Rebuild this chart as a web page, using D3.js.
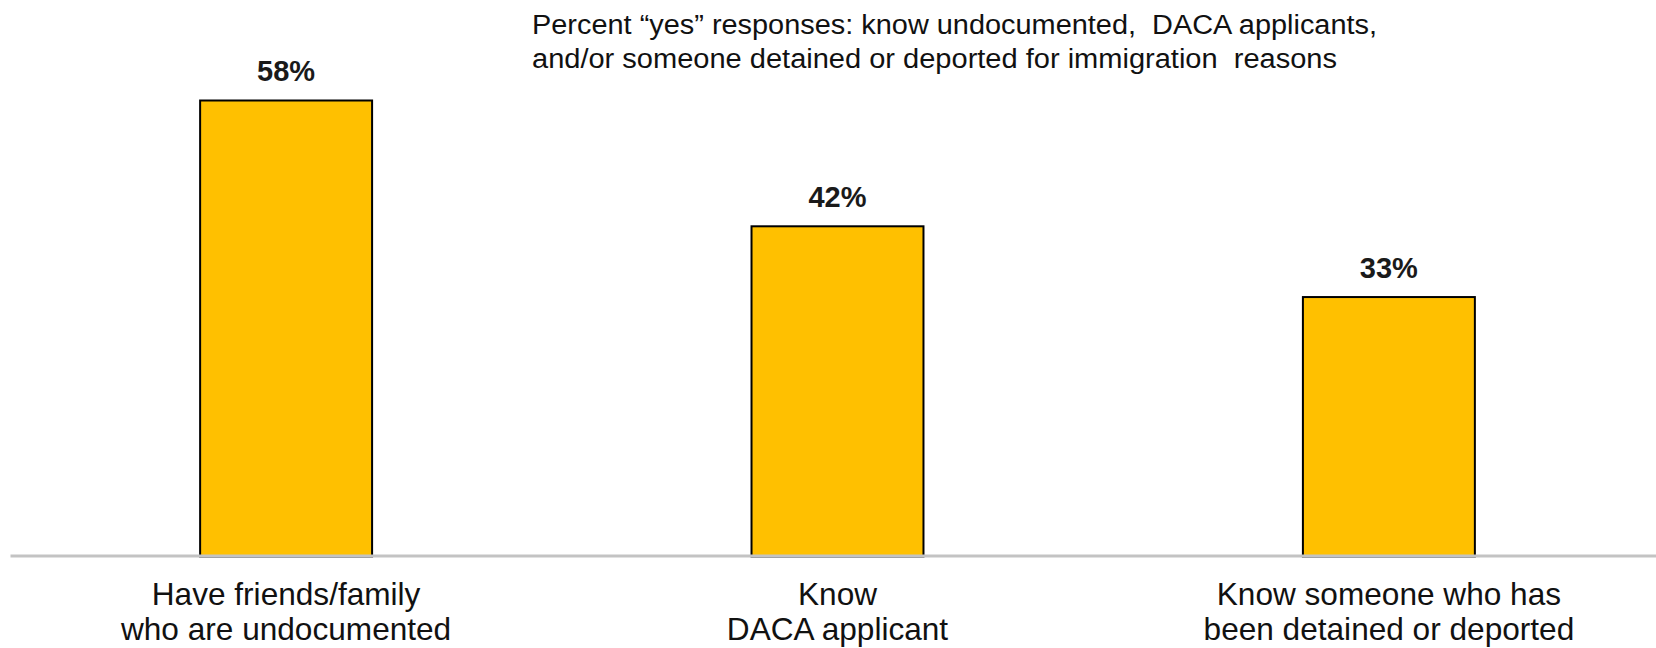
<!DOCTYPE html>
<html><head><meta charset="utf-8">
<script src="https://cdn.jsdelivr.net/npm/d3@7"></script>
<style>body{margin:0;background:#fff}svg{display:block}</style>
</head><body>
<svg id="c" width="1656" height="648"></svg>
<script>
const categories = ["Have friends/family\nwho are undocumented", "Know\nDACA applicant", "Know someone who has\nbeen detained or deported"];
const values = [58, 42, 33];
const valueLabels = ["58%", "42%", "33%"];
const titleLines = ["Percent \u201cyes\u201d responses: know undocumented,  DACA applicants,", "and/or someone detained or deported for immigration  reasons"];

const svg = d3.select("#c");
const x = d3.scaleBand().domain(categories).range([10, 1665]).paddingInner(0.6845).paddingOuter(0.343);
const y = d3.scaleLinear().domain([0, 58]).range([555.5, 99.5]);

svg.append("g").selectAll("rect").data(values).join("rect")
  .attr("x", (d,i) => x(categories[i]) + 1)
  .attr("width", x.bandwidth() - 2)
  .attr("y", d => y(d) + 1)
  .attr("height", d => y(0) - y(d))
  .attr("fill", "#FFC000").attr("stroke", "#000").attr("stroke-width", 2);

const ax = svg.append("g").attr("transform", `translate(0,${y(0)})`)
  .call(d3.axisBottom(x).tickSize(0).tickFormat(""));
ax.select(".domain").attr("stroke", "#c3c3c3").attr("stroke-width", 3);

svg.append("g").selectAll("text").data(values).join("text")
  .attr("x", (d,i) => x(categories[i]) + x.bandwidth()/2)
  .attr("y", d => y(d) - 18.5)
  .attr("text-anchor", "middle")
  .attr("font-family", "Liberation Sans, Arial, sans-serif")
  .attr("font-weight", "bold").attr("font-size", 29).attr("fill", "#1a1a1a")
  .text((d,i) => valueLabels[i]);

const cl = svg.append("g").selectAll("text").data(categories).join("text")
  .attr("text-anchor", "middle")
  .attr("font-family", "Liberation Sans, Arial, sans-serif")
  .attr("font-size", 31.6).attr("fill", "#111");
cl.each(function(d){
  const t = d3.select(this);
  d.split("\n").forEach((line, j) => {
    t.append("tspan").attr("x", x(d) + x.bandwidth()/2).attr("y", 604.5 + j*35.5).text(line);
  });
});

const tl = [845, 805];
svg.append("g").selectAll("text").data(titleLines).join("text")
  .attr("x", 532).attr("y", (d,i) => 33.5 + i*34.5)
  .attr("xml:space", "preserve")
  .attr("font-family", "Liberation Sans, Arial, sans-serif")
  .attr("font-size", 27).attr("fill", "#111")
  .attr("textLength", (d,i) => tl[i]).attr("lengthAdjust", "spacingAndGlyphs")
  .text(d => d);
</script>
</body></html>
